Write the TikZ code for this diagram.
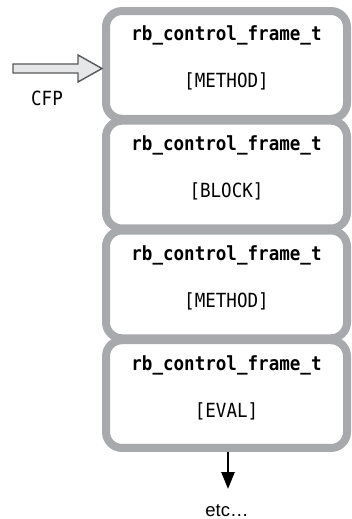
\documentclass[tikz,border=0pt]{standalone}
\usepackage{fontspec}
\setmainfont{Liberation Sans}
\newfontfamily\monof[FakeStretch=0.9]{DejaVu Sans Mono}
\usetikzlibrary{arrows.meta,calc}
\definecolor{framegray}{HTML}{A7A9AC}
\definecolor{arrowfill}{HTML}{E6E7E8}
\definecolor{arrowline}{HTML}{58595B}
\tikzset{
  framebox/.style={draw=framegray, line width=8pt, rounded corners=16pt, fill=white,
    minimum width=241pt, minimum height=107.75pt, outer sep=0pt, inner sep=0pt},
  titletext/.style={anchor=base, inner sep=0pt, font=\monof\bfseries\fontsize{19.5}{22}\selectfont},
  kindtext/.style={anchor=base, inner sep=0pt, font=\monof\fontsize{19.5}{22}\selectfont},
  etctext/.style={anchor=base, inner sep=0pt, font=\fontsize{18.5}{20}\selectfont},
  blockarrow/.style={draw=arrowline, fill=arrowfill, line width=1.4pt, line join=miter},
  downarrow/.style={-{Triangle[length=17pt,width=13pt]}, line width=2.6pt, black}
}
\begin{document}
\begin{tikzpicture}[x=1pt,y=1pt]
\useasboundingbox (0,0) rectangle (352,-519);
% frames
\node[framebox] (f1) at (226.5,-64.9) {};
\node[framebox] (f2) at (226.5,-174.6) {};
\node[framebox] (f3) at (226.5,-284.4) {};
\node[framebox] (f4) at (226.5,-394.1) {};
% texts
\foreach \f/\k in {f1/METHOD, f2/BLOCK, f3/METHOD, f4/EVAL}{
  \node[titletext] (\f t) at ([yshift=24pt]\f.center) {rb\_control\_frame\_t};
  \node[kindtext] (\f k) at ([yshift=-23pt]\f.center) {[\k]};
}
% CFP block arrow
\coordinate (tip) at (102,-68.5);
\draw[blockarrow] (tip) -- ++(-24,13.5) -- ++(0,-9) -- ++(-65,0) -- ++(0,-9) -- ++(65,0) -- ++(0,-9) -- cycle;
\node[kindtext] (cfp) at (47,-105) {CFP};
% down arrow
\coordinate (down) at (228,-489);
\draw[downarrow] ([xshift=1.5pt,yshift=-4pt]f4.south) -- (down);
\node[etctext] (etc) at (227,-516) {etc…};
\end{tikzpicture}
\end{document}
